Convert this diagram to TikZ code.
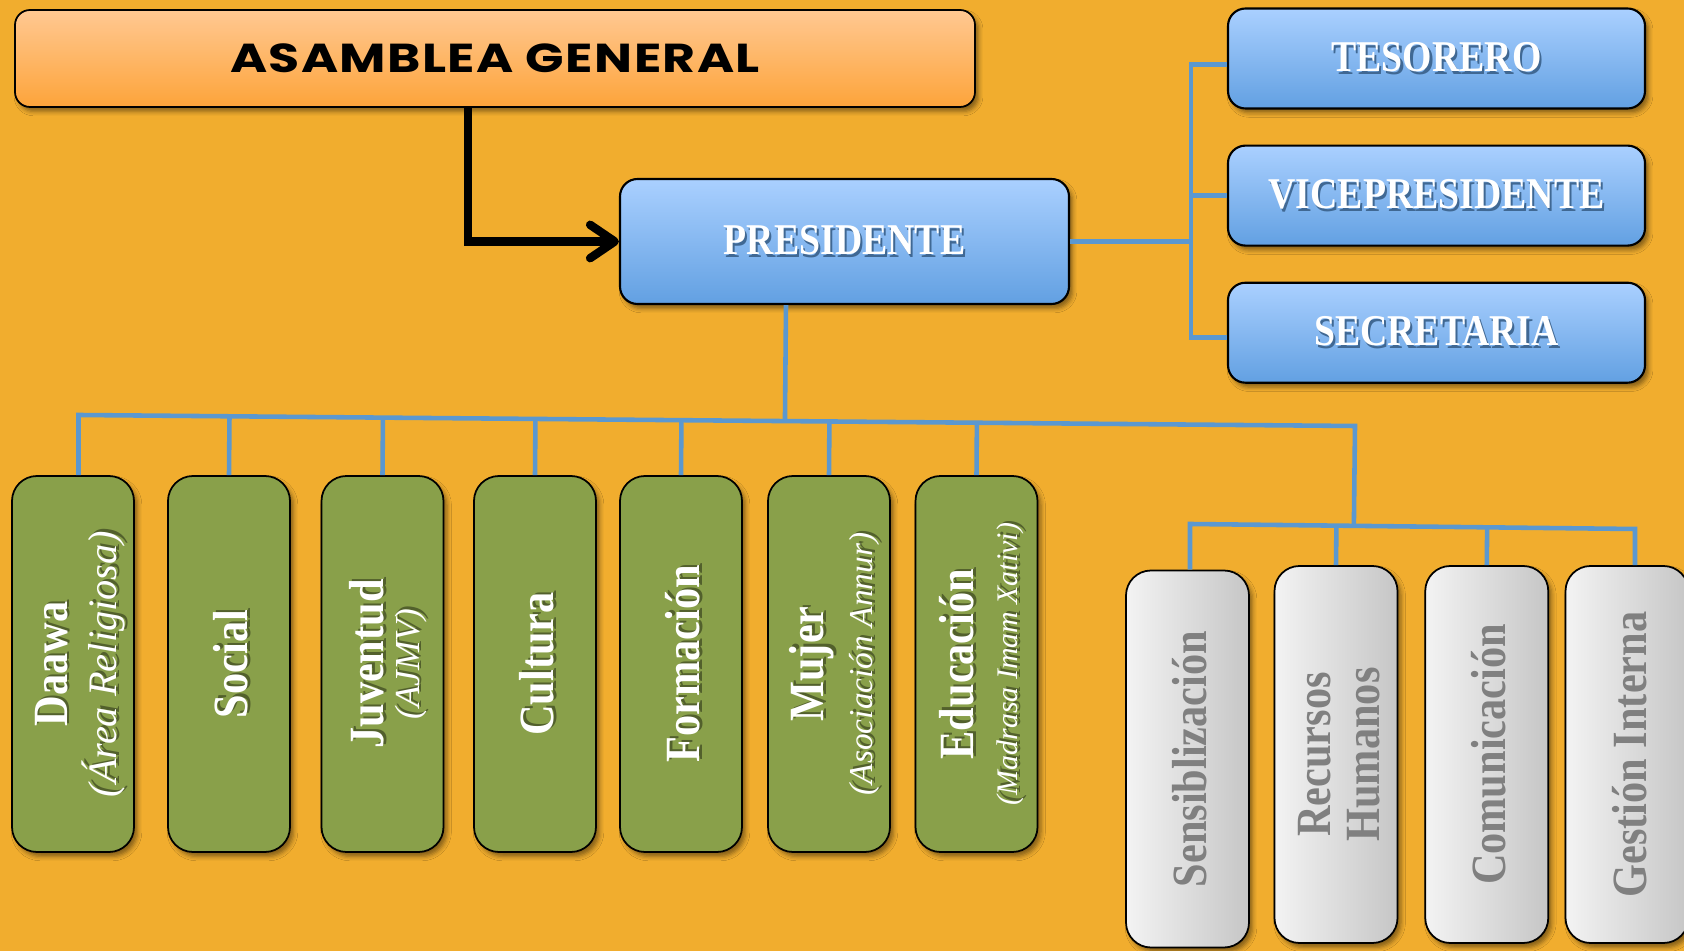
\documentclass[tikz,border=0pt]{standalone}
\usepackage{fontspec}
\usepackage{graphicx}
\setmainfont{Liberation Serif}
\newfontfamily\titlefont{Poppins}[LetterSpace=3.5,FakeStretch=1.25]
\newfontfamily\cargofont{Liberation Serif}[FakeStretch=0.86]
\usetikzlibrary{%
  arrows.meta,%
  calc,%
  positioning,%
  shadows.blur%
}

\definecolor{fondo}{RGB}{241,173,46}
\definecolor{verde}{RGB}{137,160,74}
\definecolor{linea}{RGB}{91,152,208}
\definecolor{azulclaro}{RGB}{170,208,255}
\definecolor{azul}{RGB}{98,160,226}
\definecolor{naranjaclaro}{RGB}{255,200,146}
\definecolor{naranja}{RGB}{253,164,58}
\definecolor{grisclaro}{RGB}{243,243,243}
\definecolor{gris}{RGB}{198,198,198}
\definecolor{gristexto}{RGB}{128,128,128}
\colorlet{sombratexto}{black!40}

\newcommand{\sombreado}[1]{\leavevmode
  \rlap{\kern1.2pt\raisebox{-1.5pt}{\color{sombratexto}#1}}#1}
\newcommand{\vtexto}[1]{\rotatebox{90}{\fontsize{24}{28}\selectfont
  \begin{tabular}{@{}c@{}}\rule{0pt}{30pt}#1\end{tabular}}}
\newcommand{\nombre}[1]{{\cargofont\bfseries\fontsize{28}{28}\selectfont\sombreado{#1}}}
\newcommand{\comisiontexto}[1]{{\cargofont\bfseries\fontsize{28}{28}\selectfont #1}}
\newcommand{\subarea}[2]{{\fontsize{#1}{28}\selectfont\itshape\sombreado{#2}}}

\tikzset{
  sombra/.style={blur shadow={shadow xshift=2pt,shadow yshift=-2.5pt,
      shadow blur radius=2.5pt,shadow opacity=45}},
  asamblea/.style={draw=black,line width=1pt,rounded corners=0.3cm,
    top color=naranjaclaro,bottom color=naranja,sombra,
    minimum width=19.2cm,minimum height=1.94cm,
    font=\titlefont\bfseries\fontsize{23}{26}\selectfont},
  cargo/.style={draw=black,line width=1.2pt,rounded corners=0.35cm,
    top color=azulclaro,bottom color=azul,sombra,
    minimum width=8.34cm,minimum height=2cm,text=white,
    font=\colorlet{sombratexto}{azul!65!black}\cargofont\bfseries\fontsize{25}{28}\selectfont},
  area/.style={draw=black,line width=1pt,rounded corners=0.5cm,
    fill=verde,sombra,minimum width=2.44cm,minimum height=7.52cm,
    text=white,inner sep=0pt,font=\colorlet{sombratexto}{verde!60!black}},
  comision/.style={draw=black,line width=1pt,rounded corners=0.5cm,
    left color=grisclaro,right color=gris,sombra,
    minimum width=2.46cm,minimum height=7.54cm,text=gristexto,inner sep=0pt},
  rama/.style={draw=linea,line width=2.6pt},
  flecha/.style={draw=black,line width=4.8pt,
    -{Straight Barb[length=14pt,width=19pt,round]}}
}

\begin{document}
\begin{tikzpicture}
  \useasboundingbox (0,0) rectangle (33.68,19.02);
  \fill[fondo] (0,0) rectangle (33.68,19.02);

  \node[asamblea] (asam) at (9.90,17.85) {ASAMBLEA GENERAL};
  \node[cargo,minimum width=8.98cm,minimum height=2.5cm] (pres) at (16.89,14.19) {\sombreado{PRESIDENTE}};
  \node[cargo] (tes) at (28.73,17.85) {\sombreado{TESORERO}};
  \node[cargo,below=0.7cm of tes] (vice) {\sombreado{VICEPRESIDENTE}};
  \node[cargo,below=0.7cm of vice] (secr) {\sombreado{SECRETARIA}};

  \node[area] (daawa) at (1.46,5.74)
    {\vtexto{\nombre{Daawa}\\ \subarea{23}{(Área Religiosa)}}};
  \node[area] (social) at (4.58,5.74) {\vtexto{\nombre{Social}}};
  \node[area] (juventud) at (7.65,5.74)
    {\vtexto{\nombre{Juventud}\\[-8pt] \subarea{20}{(AJMV)}}};
  \node[area] (cultura) at (10.70,5.74) {\vtexto{\nombre{Cultura}}};
  \node[area] (formacion) at (13.62,5.74) {\vtexto{\nombre{Formación}}};
  \node[area] (mujer) at (16.58,5.74)
    {\vtexto{\nombre{Mujer}\\ \subarea{19}{(Asociación Annur)}}};
  \node[area] (educacion) at (19.53,5.74)
    {\vtexto{\nombre{Educación}\\[-3pt] \subarea{17}{(Madrasa Imam Xativi)}}};

  \node[comision] (sens) at (23.75,3.84) {\vtexto{\comisiontexto{Sensiblización}}};
  \node[comision] (rrhh) at (26.72,3.93)
    {\vtexto{\comisiontexto{Recursos}\\ \comisiontexto{Humanos}}};
  \node[comision,right=0.52cm of rrhh] (comu) {\vtexto{\comisiontexto{Comunicación}}};
  \node[comision,right=0.31cm of comu] (gest) {\vtexto{\comisiontexto{Gestión Interna}}};

  \draw[flecha] ([xshift=-0.54cm]asam.south) |- (pres.west);

  \path (pres.east) ++(2.42,0) coordinate (rbus);
  \draw[rama] (pres.east) -- (rbus);
  \draw[rama] ([yshift=-0.12cm]tes.west) -| (rbus) |- ([yshift=-0.1cm]secr.west);
  \draw[rama] (vice.west) -- (vice.west -| rbus);

  \coordinate (busL) at (1.57,10.72);
  \coordinate (busR) at (27.10,10.50);
  \coordinate (sbusL) at (23.80,8.54);
  \coordinate (sbusR) at (32.70,8.44);
  \draw[rama] (busL |- daawa.north) -- (busL) -- (busR) -- ($(sbusL)!(busR)!(sbusR)$);
  \draw[rama] ([xshift=-1.17cm]pres.south) -- ($(busL)!([xshift=-1.17cm]pres.south)!(busR)$);
  \foreach \n in {social,juventud,cultura,formacion,mujer,educacion}
    \draw[rama] (\n.north) -- ($(busL)!(\n.north)!(busR)$);
  \draw[rama] (sbusL |- sens.north) -- (sbusL) -- (sbusR) -- (sbusR |- gest.north);
  \foreach \n in {rrhh,comu}
    \draw[rama] (\n.north) -- ($(sbusL)!(\n.north)!(sbusR)$);
\end{tikzpicture}
\end{document}
